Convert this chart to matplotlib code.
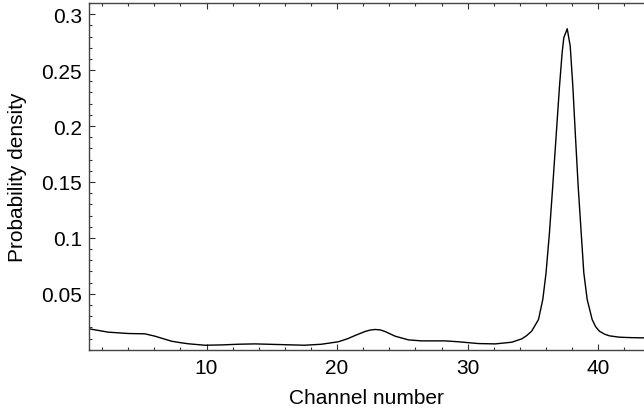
import matplotlib as mpl
mpl.use('Agg')
import matplotlib.pyplot as plt
from matplotlib.ticker import MultipleLocator, FixedLocator

plt.rcParams['font.family'] = ['Liberation Sans', 'DejaVu Sans']

# channel number vs probability density
channel = [1.0, 2.47, 4.0, 5.28, 6.05, 6.7, 7.32, 8.0, 8.6, 9.88, 11.2, 12.43,
           13.7, 15.0, 16.26, 17.5, 18.8, 20.09, 20.8, 21.37, 22.14, 22.5,
           22.9, 23.3, 23.67, 24.44, 25.46, 26.47, 28.27, 29.29, 30.82, 32.1,
           33.37, 34.14, 34.5, 34.9, 35.42, 35.75, 36.0, 36.26, 36.51, 36.77,
           37.03, 37.23, 37.36, 37.62, 37.85, 38.05, 38.25, 38.46, 38.69,
           38.89, 39.15, 39.53, 39.8, 40.09, 40.5, 40.86, 41.62, 42.5, 43.5]
density = [0.0187, 0.0157, 0.0145, 0.0142, 0.0121, 0.0098, 0.0076, 0.0063,
           0.0053, 0.0040, 0.0043, 0.0049, 0.0052, 0.0048, 0.0044, 0.0040,
           0.0049, 0.0071, 0.0098, 0.0127, 0.0163, 0.0175, 0.0181, 0.0177,
           0.0163, 0.0121, 0.0088, 0.0079, 0.0079, 0.0071, 0.0055, 0.0052,
           0.0067, 0.0097, 0.0125, 0.0166, 0.0270, 0.0449, 0.0688, 0.1046,
           0.1460, 0.1910, 0.2357, 0.2655, 0.2790, 0.2870, 0.2715, 0.2357,
           0.1910, 0.1460, 0.1046, 0.0688, 0.0449, 0.0270, 0.0205, 0.0165,
           0.0138, 0.0124, 0.0112, 0.0108, 0.0106]

x_ticks = [10, 20, 30, 40]
y_ticks = [0.05, 0.1, 0.15, 0.2, 0.25, 0.3]
y_labels = ['0.05', '0.1', '0.15', '0.2', '0.25', '0.3']

fig = plt.figure(figsize=(6.44, 4.10), dpi=100)
ax = fig.add_axes([0.1382, 0.1446, 0.8618, 0.8456])

ax.plot(channel, density, color='black', linewidth=1.0,
        solid_joinstyle='round')

ax.set_xlim(1, 43.5)
ax.set_ylim(0, 0.31)

ax.xaxis.set_major_locator(FixedLocator(x_ticks))
ax.xaxis.set_minor_locator(MultipleLocator(2))
ax.yaxis.set_major_locator(FixedLocator(y_ticks))
ax.set_yticklabels(y_labels)
ax.yaxis.set_minor_locator(MultipleLocator(0.01))

ax.tick_params(which='both', direction='in', top=True, right=False,
               color='#333333', width=0.8, labelsize=15)
ax.tick_params(axis='y', pad=5)
ax.tick_params(axis='x', pad=6)
ax.tick_params(which='major', length=4)
ax.tick_params(which='minor', length=2.2)

for s in ['left', 'bottom', 'top']:
    ax.spines[s].set_color('#444444')
    ax.spines[s].set_linewidth(1.0)
ax.spines['right'].set_visible(False)

ax.set_xlabel('Channel number', fontsize=15, labelpad=8)
ax.set_ylabel('Probability density', fontsize=15, labelpad=10)

fig.savefig('out.png', dpi=100)
